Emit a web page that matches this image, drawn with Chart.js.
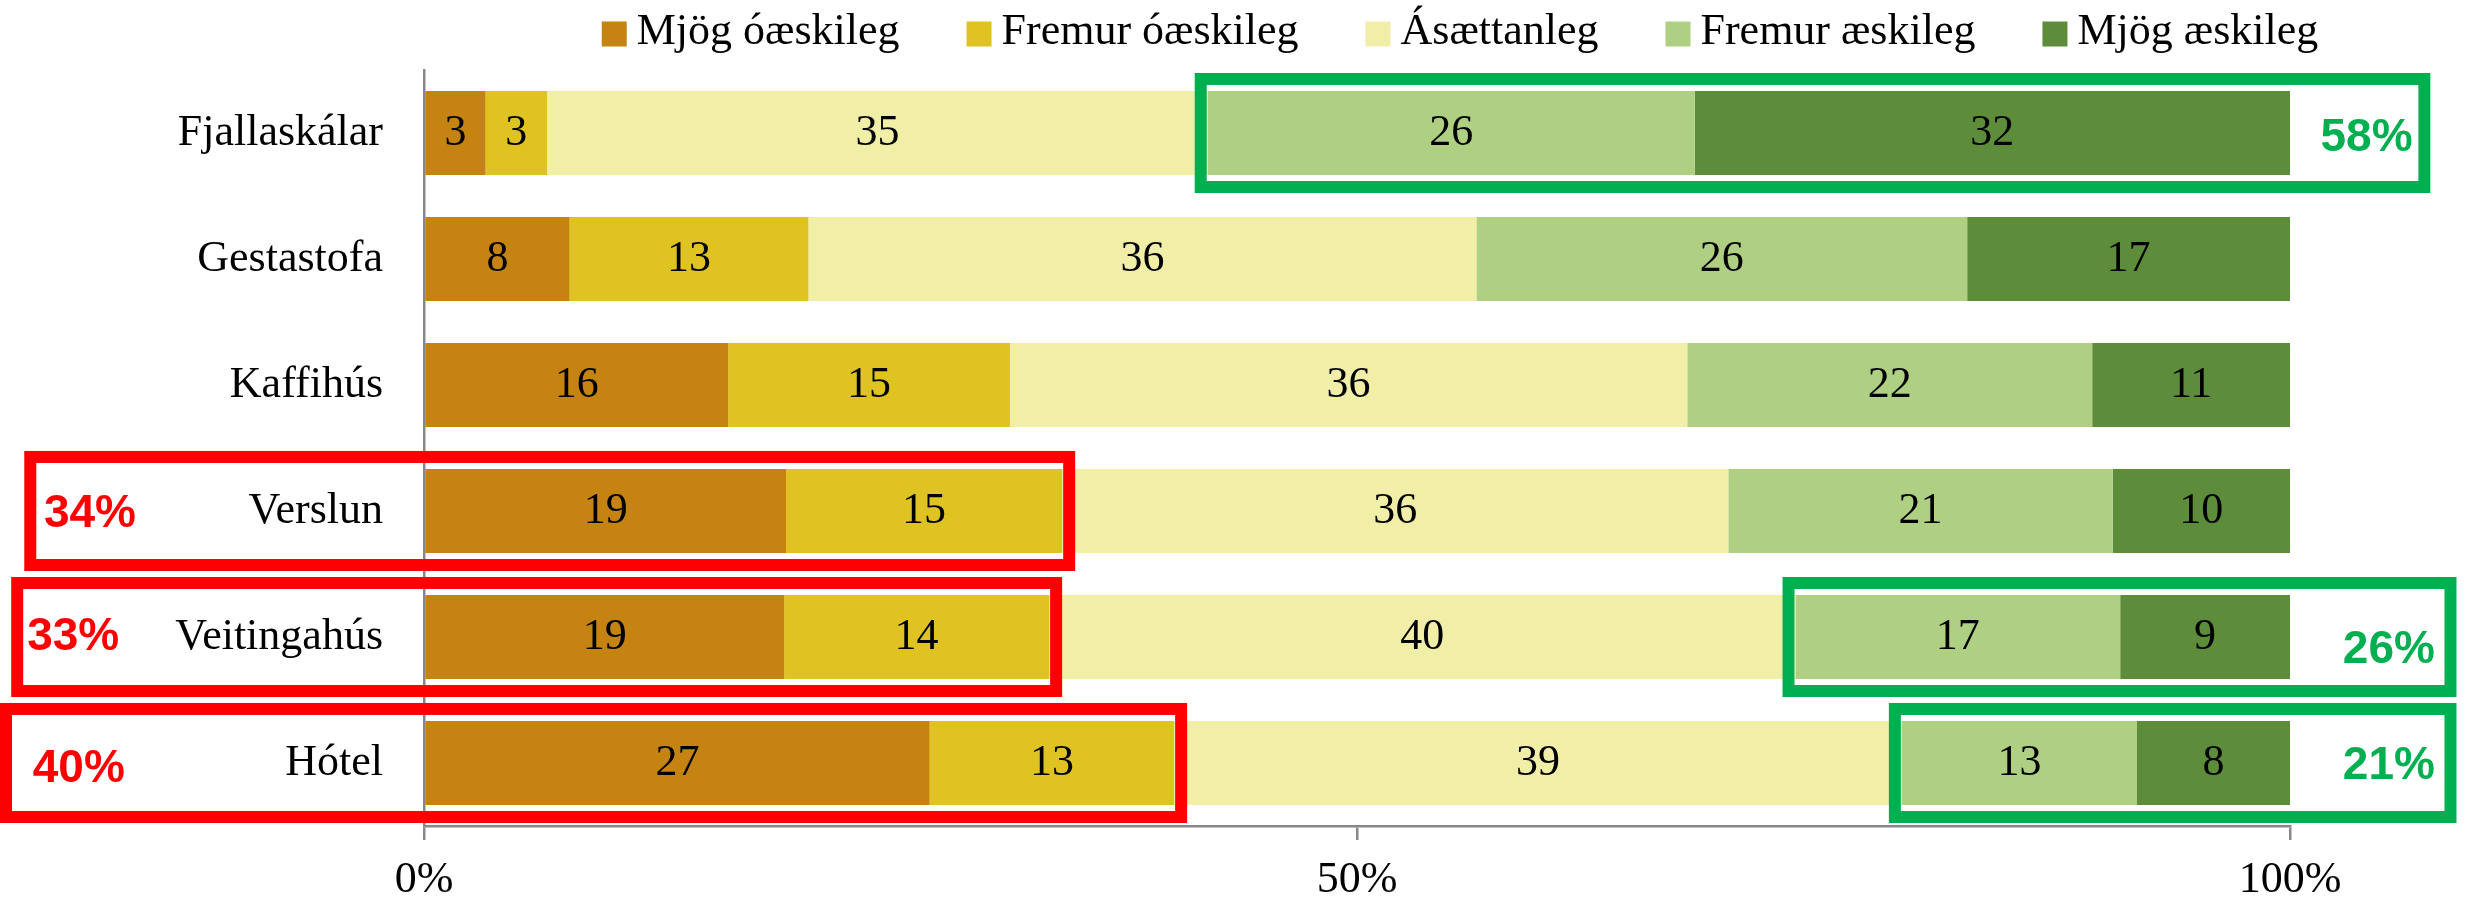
<!DOCTYPE html>
<html lang="is">
<head>
<meta charset="utf-8">
<title>Viðhorf til mannvirkja</title>
<script src="https://cdn.jsdelivr.net/npm/chart.js@4.4.1/dist/chart.umd.min.js"></script>
<style>
  html, body { margin: 0; padding: 0; background: #fff; }
  #wrap { width: 2468px; height: 902px; }
</style>
</head>
<body>
<div id="wrap"><canvas id="graf" width="2468" height="902"></canvas></div>
<script>
/* ================= GÖGN ================= */

const flokkar = ["Fjallaskálar", "Gestastofa", "Kaffihús", "Verslun", "Veitingahús", "Hótel"];

const mjogOaeskileg   = [3.3, 7.8, 16.3, 19.4, 19.3, 27.1];
const fremurOaeskileg = [3.3, 12.8, 15.1, 14.8, 14.2, 13.1];
const asaettanleg     = [35.4, 35.8, 36.3, 35.7, 40.0, 39.0];
const fremurAeskileg  = [26.1, 26.3, 21.7, 20.6, 17.4, 12.6];
const mjogAeskileg    = [31.9, 17.3, 10.6, 9.5, 9.1, 8.2];

const asTikk = [0, 50, 100];

// samtölur sem eru rammaðar inn
const neikvaettSamtals = [null, null, null, "34%", "33%", "40%"];
const jakvaettSamtals  = ["58%", null, null, null, "26%", "21%"];

/* ================= ÚTLIT ================= */

const LETUR = "'Liberation Serif', 'Times New Roman', serif";
const RAUTT = "#FF0000";
const GRAENT = "#00B050";

// staðsetning ramma og texta í einingum x-ássins (%)
const rammar = {
  raudVinstri:  [null, null, null, -21.1, -21.8, -22.4],
  raudTextiX:   [null, null, null, -17.9, -18.8, -18.5],
  raudTextiDy:  [0, 0, 0, 3, 0, 6],
  graenHaegri:  [107.2, null, null, null, 108.6, 108.6],
  graenTextiX:  [104.1, null, null, null, 105.3, 105.3],
  graenTextiDy: [5, 0, 0, 0, 13, 3]
};

/* ================= VIÐBÆTUR ================= */

const gildiPlugin = {
  id: "gildi",
  afterDatasetsDraw(chart) {
    const ctx = chart.ctx;
    ctx.save();
    ctx.font = "44px " + LETUR;
    ctx.fillStyle = "#000";
    ctx.textAlign = "center";
    ctx.textBaseline = "middle";
    chart.data.datasets.forEach((ds, d) => {
      chart.getDatasetMeta(d).data.forEach((bar, i) => {
        const c = bar.getCenterPoint();
        ctx.fillText(Math.round(ds.data[i]), c.x, c.y);
      });
    });
    ctx.restore();
  }
};

const rammaPlugin = {
  id: "rammar",
  afterDatasetsDraw(chart) {
    const ctx = chart.ctx;
    const x = chart.scales.x;
    ctx.save();
    ctx.lineWidth = 12;
    ctx.textAlign = "center";
    ctx.textBaseline = "middle";
    ctx.font = "bold 46px 'Liberation Sans', Arial, sans-serif";

    flokkar.forEach((f, i) => {
      const bar = chart.getDatasetMeta(0).data[i];
      const efst = bar.y - bar.height / 2 - 12;
      const nedst = bar.y + bar.height / 2 + 12;

      if (neikvaettSamtals[i]) {
        const vinstri = x.getPixelForValue(rammar.raudVinstri[i]);
        const haegri = chart.getDatasetMeta(1).data[i].x + 7;
        ctx.strokeStyle = RAUTT;
        ctx.strokeRect(vinstri, efst, haegri - vinstri, nedst - efst);
        ctx.fillStyle = RAUTT;
        ctx.fillText(neikvaettSamtals[i], x.getPixelForValue(rammar.raudTextiX[i]), bar.y + rammar.raudTextiDy[i]);
      }

      if (jakvaettSamtals[i]) {
        const vinstri = chart.getDatasetMeta(3).data[i].base - 7;
        const haegri = x.getPixelForValue(rammar.graenHaegri[i]);
        ctx.strokeStyle = GRAENT;
        ctx.strokeRect(vinstri, efst, haegri - vinstri, nedst - efst);
        ctx.fillStyle = GRAENT;
        ctx.fillText(jakvaettSamtals[i], x.getPixelForValue(rammar.graenTextiX[i]), bar.y + rammar.graenTextiDy[i]);
      }
    });
    ctx.restore();
  }
};

const skyringaPlugin = {
  id: "skyringar",
  afterDraw(chart) {
    const ctx = chart.ctx;
    const ferningur = 25, bil = 10, milli = 67, midja = 1460, midjaY = 34;
    ctx.save();
    ctx.font = "44px " + LETUR;
    ctx.textBaseline = "middle";
    ctx.textAlign = "left";
    const breiddir = chart.data.datasets.map(ds => ferningur + bil + ctx.measureText(ds.label).width);
    const heild = breiddir.reduce((a, b) => a + b, 0) + milli * (breiddir.length - 1);
    let xx = midja - heild / 2;
    chart.data.datasets.forEach((ds, d) => {
      ctx.fillStyle = ds.backgroundColor;
      ctx.fillRect(xx, midjaY - ferningur / 2, ferningur, ferningur);
      ctx.fillStyle = "#000";
      ctx.fillText(ds.label, xx + ferningur + bil, midjaY - 2);
      xx += breiddir[d] + milli;
    });
    ctx.restore();
  }
};

/* ================= GRAF ================= */

new Chart(document.getElementById("graf"), {
  type: "bar",
  data: {
    labels: flokkar,
    datasets: [
      { label: "Mjög óæskileg",   data: mjogOaeskileg,   backgroundColor: "#C58412" },
      { label: "Fremur óæskileg", data: fremurOaeskileg, backgroundColor: "#DFC323" },
      { label: "Ásættanleg",      data: asaettanleg,     backgroundColor: "#F1EEA8" },
      { label: "Fremur æskileg",  data: fremurAeskileg,  backgroundColor: "#AFCF82" },
      { label: "Mjög æskileg",    data: mjogAeskileg,    backgroundColor: "#5D8D3A" }
    ]
  },
  options: {
    responsive: false,
    animation: false,
    indexAxis: "y",
    layout: { padding: { top: 70, right: 178, left: 0, bottom: 0 } },
    datasets: { bar: { barPercentage: 1, categoryPercentage: 0.667, borderWidth: 0 } },
    plugins: {
      legend: { display: false },
      tooltip: { enabled: false }
    },
    scales: {
      x: {
        stacked: true,
        min: 0,
        max: 100,
        afterBuildTicks: s => { s.ticks = asTikk.map(v => ({ value: v })); },
        ticks: {
          callback: v => v + "%",
          font: { family: LETUR, size: 44 },
          color: "#000",
          padding: 14,
          maxRotation: 0
        },
        grid: { drawOnChartArea: false, drawTicks: true, tickLength: 14, color: "#888", lineWidth: 2.5 },
        border: { color: "#888", width: 2.5 },
        afterFit: s => { s.height = 76; }
      },
      y: {
        stacked: true,
        ticks: {
          font: { family: LETUR, size: 44 },
          color: "#000",
          padding: 41
        },
        grid: { drawOnChartArea: false, drawTicks: false },
        border: { color: "#888", width: 2.5 },
        afterFit: s => { s.width = 424; }
      }
    }
  },
  plugins: [gildiPlugin, rammaPlugin, skyringaPlugin]
});
</script>
</body>
</html>
